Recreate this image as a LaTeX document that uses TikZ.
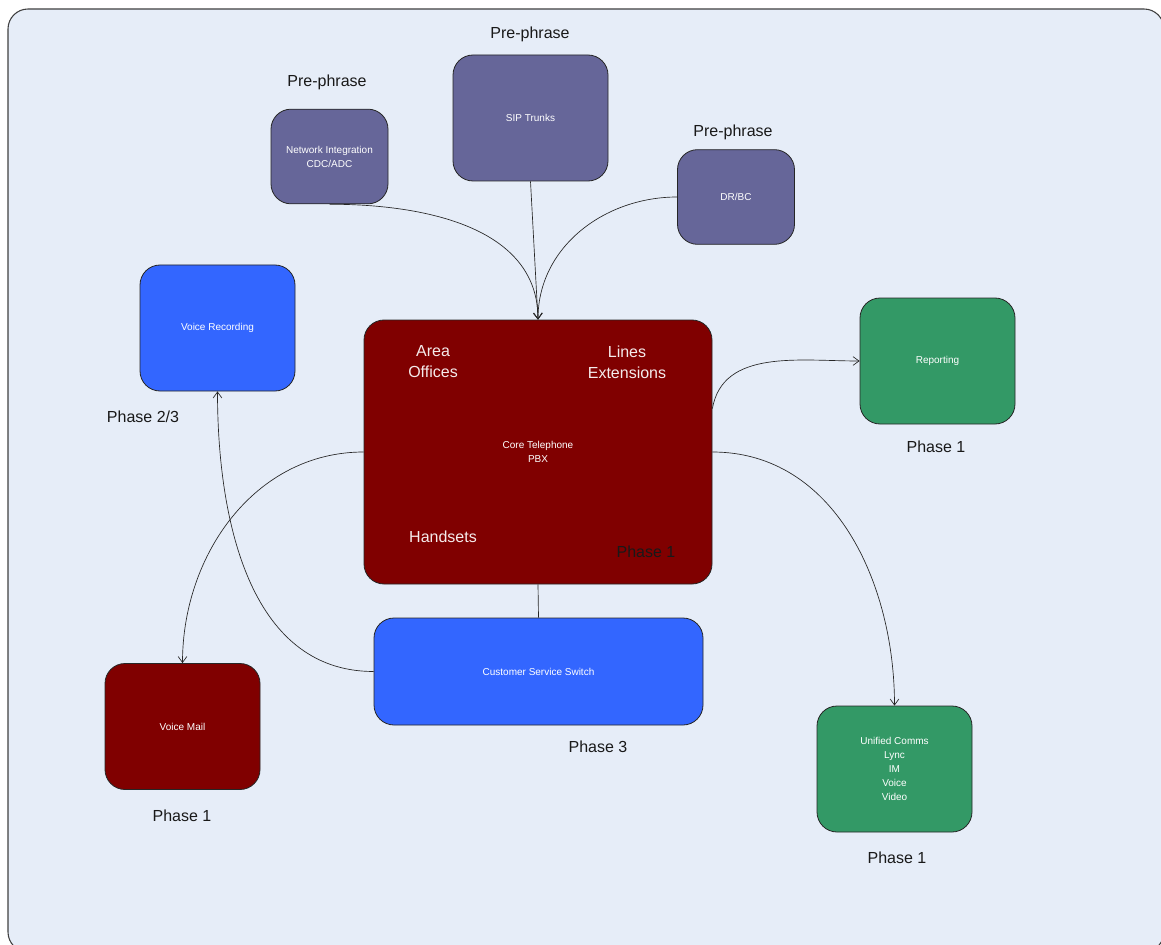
\documentclass[tikz,border=0pt]{standalone}
\usepackage{fontspec}
\setmainfont{Liberation Sans}
\usetikzlibrary{arrows.meta}
\definecolor{pagebg}{RGB}{230,237,248}
\definecolor{prephase}{RGB}{102,102,153}
\definecolor{switchblue}{RGB}{51,102,255}
\definecolor{pbxred}{RGB}{128,0,0}
\definecolor{reportgreen}{RGB}{51,153,102}

\begin{document}
\begin{tikzpicture}[
    x=0.75pt, y=-0.75pt,
    box/.style={rectangle, rounded corners=15pt, draw=black!85, line width=0.6pt,
                inner sep=0pt, text=white, align=center,
                font=\fontsize{7.5}{10.5}\selectfont},
    smallbox/.style={box, minimum width=116.25pt, minimum height=94.5pt},
    tinybox/.style={box, minimum width=87.75pt, minimum height=71pt},
    phase/.style={font=\fontsize{12}{14}\selectfont, text=black!90, inner sep=0pt},
    inner/.style={font=\fontsize{12}{15.75}\selectfont, text=white!92!pbxred,
                  align=center, inner sep=0pt},
    arrow/.style={-{Straight Barb[length=4.5pt, width=6.5pt]}, line width=0.5pt,
                  draw=black!85}
]

\useasboundingbox (0,0) rectangle (1161,945);
\draw [fill=pagebg, draw=black!75, line width=0.8pt, rounded corners=15pt]
    (8,9) rectangle (1164,952);

\node (ni) [tinybox, fill=prephase] at (329.5,156.5) {Network Integration\\CDC/ADC};
\node (sip) [smallbox, fill=prephase] at (530.5,118) {SIP Trunks};
\node (drbc) [tinybox, fill=prephase] at (736,197) {DR/BC};

\node (voicerec) [smallbox, fill=switchblue] at (217.5,328) {Voice Recording};
\node (core) [box, fill=pbxred, minimum width=261pt, minimum height=198pt] at (538,452)
    {Core Telephone\\PBX};
\node (reporting) [smallbox, fill=reportgreen] at (937.5,361) {Reporting};
\node (css) [box, fill=switchblue, minimum width=246.75pt, minimum height=80.25pt]
    at (538.5,671.5) {Customer Service Switch};
\node (voicemail) [smallbox, fill=pbxred] at (182.5,726.5) {Voice Mail};
\node (unified) [smallbox, fill=reportgreen] at (894.5,769)
    {Unified Comms\\Lync\\IM\\Voice\\Video};

\node (areaoff) [inner] at (433,362) {Area\\Offices};
\node (lines) [inner] at (627,362) {Lines\\Extensions};
\node (handsets) [inner] at (443,537) {Handsets};
\node (corephase) [phase] at (646,552) {Phase 1};

\node (preni) [phase] at (327,82) {Pre-phrase};
\node (presip) [phase] at (530,34) {Pre-phrase};
\node (predr) [phase] at (733,132) {Pre-phrase};
\node (phvoicerec) [phase] at (143,417) {Phase 2/3};
\node (phreport) [phase] at (936,447) {Phase 1};
\node (phcss) [phase] at (598,747) {Phase 3};
\node (phvoicemail) [phase] at (182,816) {Phase 1};
\node (phunified) [phase] at (897,858) {Phase 1};

\draw [arrow] (ni.south) to[out=0, in=90] (core.north);
\draw [arrow] (sip.south) -- (core.north);
\draw [arrow] (drbc.west) to[out=180, in=90] (core.north);
\draw [arrow] (core.14) to[out=80, in=180] (reporting.west);
\draw [arrow] (core.east) to[out=0, in=90] (unified.north);
\draw [arrow] (core.west) to[out=180, in=90] (voicemail.north);
\draw [arrow] (css.west) to[out=180, in=-90] (voicerec.south);
\draw [line width=0.5pt, draw=black!85] (core.south) -- (css.north);

\end{tikzpicture}
\end{document}
